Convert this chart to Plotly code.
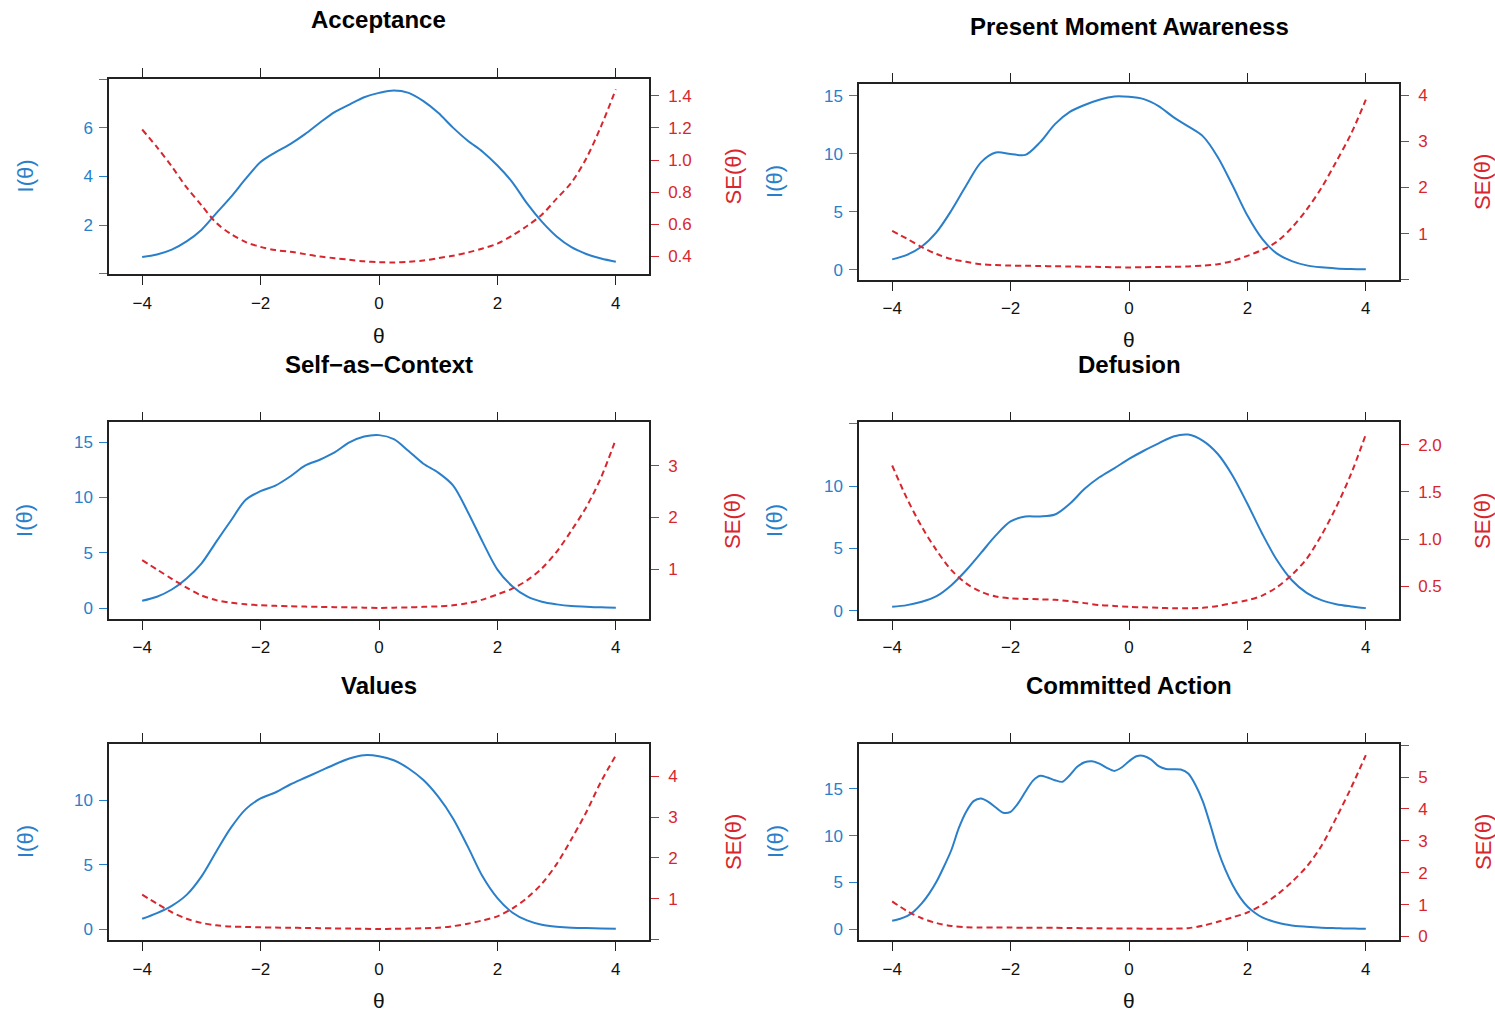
import plotly.graph_objects as go

# ---------------- data ----------------
theta = [-4.0, -3.75, -3.5, -3.25, -3.0, -2.75, -2.5, -2.25, -2.0, -1.75, -1.5, -1.25,
         -1.0, -0.75, -0.5, -0.25, 0.0, 0.25, 0.5, 0.75, 1.0, 1.25, 1.5, 1.75,
         2.0, 2.25, 2.5, 2.75, 3.0, 3.25, 3.5, 3.75, 4.0]

theta_fine = [-4.0, -3.875, -3.75, -3.625, -3.5, -3.375, -3.25, -3.125, -3.0, -2.875, -2.75,
              -2.625, -2.5, -2.375, -2.25, -2.125, -2.0, -1.875, -1.75, -1.625, -1.5, -1.375,
              -1.25, -1.125, -1.0, -0.875, -0.75, -0.625, -0.5, -0.375, -0.25, -0.125, 0.0,
              0.125, 0.25, 0.375, 0.5, 0.625, 0.75, 0.875, 1.0, 1.125, 1.25, 1.375, 1.5,
              1.625, 1.75, 1.875, 2.0, 2.125, 2.25, 2.375, 2.5, 2.625, 2.75, 2.875, 3.0,
              3.125, 3.25, 3.375, 3.5, 3.625, 3.75, 3.875, 4.0]

acceptance_info = [0.69, 0.79, 0.99, 1.33, 1.80, 2.48, 3.16, 3.91, 4.59, 4.99, 5.33, 5.74,
                   6.21, 6.65, 6.96, 7.26, 7.44, 7.54, 7.44, 7.10, 6.62, 6.01, 5.47, 5.02,
                   4.45, 3.77, 2.89, 2.14, 1.53, 1.09, 0.81, 0.62, 0.49]
acceptance_se = [1.19, 1.08, 0.96, 0.83, 0.72, 0.61, 0.54, 0.49, 0.46, 0.44, 0.43, 0.415,
                 0.40, 0.39, 0.38, 0.37, 0.365, 0.363, 0.367, 0.375, 0.39, 0.405, 0.425, 0.45,
                 0.48, 0.53, 0.59, 0.66, 0.76, 0.86, 1.01, 1.21, 1.44]

pma_info = [0.89, 1.28, 2.0, 3.24, 5.1, 7.25, 9.25, 10.1, 9.98, 9.9, 11.0, 12.55,
            13.6, 14.2, 14.65, 14.93, 14.9, 14.7, 14.1, 13.15, 12.35, 11.49, 9.7, 7.25,
            4.67, 2.66, 1.38, 0.74, 0.37, 0.2, 0.11, 0.06, 0.03]
pma_se = [1.06, 0.89, 0.71, 0.56, 0.45, 0.39, 0.34, 0.32, 0.31, 0.305, 0.30, 0.295,
          0.29, 0.285, 0.28, 0.275, 0.27, 0.275, 0.28, 0.285, 0.29, 0.31, 0.34, 0.41,
          0.52, 0.65, 0.83, 1.13, 1.52, 1.99, 2.56, 3.16, 3.9]

sac_info = [0.69, 1.05, 1.7, 2.7, 4.04, 6.0, 7.93, 9.8, 10.57, 11.08, 11.9, 12.87,
            13.41, 14.07, 14.97, 15.5, 15.63, 15.27, 14.19, 13.05, 12.25, 11.1, 8.7, 6.0,
            3.5, 2.0, 1.08, 0.6, 0.36, 0.21, 0.15, 0.09, 0.06]
sac_se = [1.18, 1.0, 0.82, 0.65, 0.50, 0.41, 0.36, 0.33, 0.31, 0.30, 0.29, 0.285,
          0.28, 0.275, 0.27, 0.265, 0.26, 0.265, 0.27, 0.28, 0.29, 0.31, 0.35, 0.42,
          0.52, 0.63, 0.79, 1.02, 1.34, 1.75, 2.2, 2.77, 3.51]

defusion_info = [0.32, 0.45, 0.72, 1.17, 2.05, 3.25, 4.64, 6.05, 7.17, 7.57, 7.57, 7.73,
                 8.59, 9.79, 10.72, 11.44, 12.19, 12.85, 13.44, 14.0, 14.15, 13.65, 12.59, 10.85,
                 8.59, 6.19, 4.05, 2.45, 1.44, 0.85, 0.53, 0.35, 0.21]
defusion_se = [1.78, 1.43, 1.13, 0.88, 0.67, 0.53, 0.44, 0.39, 0.37, 0.365, 0.36, 0.355,
               0.34, 0.32, 0.30, 0.29, 0.28, 0.275, 0.27, 0.265, 0.265, 0.27, 0.29, 0.32,
               0.35, 0.40, 0.49, 0.62, 0.79, 1.04, 1.34, 1.69, 2.11]

values_info = [0.8, 1.24, 1.8, 2.65, 4.07, 6.0, 7.86, 9.3, 10.13, 10.59, 11.21, 11.73,
               12.24, 12.76, 13.22, 13.48, 13.4, 13.09, 12.45, 11.55, 10.26, 8.58, 6.39, 4.07,
               2.4, 1.29, 0.67, 0.34, 0.18, 0.1, 0.08, 0.05, 0.03]
values_se = [1.1, 0.88, 0.67, 0.51, 0.41, 0.35, 0.32, 0.31, 0.30, 0.295, 0.29, 0.285,
             0.28, 0.275, 0.27, 0.265, 0.26, 0.265, 0.27, 0.28, 0.29, 0.33, 0.39, 0.47,
             0.57, 0.76, 1.02, 1.37, 1.85, 2.46, 3.12, 3.87, 4.51]

ca_info = [0.89, 1.08, 1.38, 1.95, 2.75, 3.8, 5.09, 6.7, 8.47, 10.8, 12.56,
           13.7, 13.99, 13.63, 13.02, 12.46, 12.56, 13.45, 14.70, 15.87, 16.41, 16.23,
           15.94, 15.77, 16.48, 17.37, 17.86, 17.97, 17.72, 17.26, 16.94, 17.30, 17.97,
           18.5, 18.54, 18.15, 17.44, 17.15, 17.12, 17.08, 16.65, 15.41, 13.63, 11.14, 8.47,
           6.4, 4.73, 3.4, 2.42, 1.75, 1.25, 0.95, 0.71, 0.52, 0.39, 0.3, 0.25,
           0.19, 0.14, 0.12, 0.1, 0.08, 0.07, 0.05, 0.04]
ca_se = [1.1, 0.80, 0.57, 0.42, 0.33, 0.29, 0.28, 0.28, 0.28, 0.27, 0.27, 0.27,
         0.265, 0.26, 0.255, 0.25, 0.25, 0.245, 0.245, 0.245, 0.26, 0.34, 0.46, 0.6,
         0.75, 0.99, 1.31, 1.71, 2.19, 2.84, 3.72, 4.66, 5.69]

titles = ["Acceptance", "Present Moment Awareness", "Self\u2212as\u2212Context",
          "Defusion", "Values", "Committed Action"]
x_ticks = [-4, -2, 0, 2, 4]

# ---------------- layout constants ----------------
W, H = 1495, 1019
BLUE = "#2a7fca"
RED = "#d8262e"
FONT = "Liberation Sans, Arial, Helvetica, sans-serif"

# frame boxes in pixels: (left, right, top, bottom)
frames = [(109, 649, 79, 276), (859, 1399, 84, 282),
          (109, 649, 425, 623), (859, 1399, 425, 623),
          (109, 649, 748, 946), (859, 1399, 748, 946)]

panels = [
    dict(x=theta, info=acceptance_info, xse=theta, se=acceptance_se,
         yr=[-0.03, 8.03], yt=[0, 2, 4, 6, 8], ytt=["", "2", "4", "6", ""],
         sr=[0.289, 1.507], st=[0.4, 0.6, 0.8, 1.0, 1.2, 1.4],
         stt=["0.4", "0.6", "0.8", "1.0", "1.2", "1.4"],
         title_y=20, xlab_y=337, sm=0.9),
    dict(x=theta, info=pma_info, xse=theta, se=pma_se,
         yr=[-0.92, 16.05], yt=[0, 5, 10, 15], ytt=["0", "5", "10", "15"],
         sr=[-0.01, 4.25], st=[0, 1, 2, 3, 4], stt=["", "1", "2", "3", "4"],
         title_y=27, xlab_y=342, sm=0.9),
    dict(x=theta, info=sac_info, xse=theta, se=sac_se,
         yr=[-0.99, 16.77], yt=[0, 5, 10, 15], ytt=["0", "5", "10", "15"],
         sr=[0.04, 3.83], st=[1, 2, 3], stt=["1", "2", "3"],
         title_y=367, xlab_y=None, sm=0.9),
    dict(x=theta, info=defusion_info, xse=theta, se=defusion_se,
         yr=[-0.69, 15.12], yt=[0, 5, 10, 15], ytt=["0", "5", "10", ""],
         sr=[0.148, 2.236], st=[0.5, 1.0, 1.5, 2.0], stt=["0.5", "1.0", "1.5", "2.0"],
         title_y=367, xlab_y=None, sm=0.9),
    dict(x=theta, info=values_info, xse=theta, se=values_se,
         yr=[-0.88, 14.38], yt=[0, 5, 10], ytt=["0", "5", "10"],
         sr=[-0.02, 4.80], st=[0, 1, 2, 3, 4], stt=["", "1", "2", "3", "4"],
         title_y=690, xlab_y=1006, sm=0.9),
    dict(x=theta_fine, info=ca_info, xse=theta, se=ca_se,
         yr=[-1.21, 19.86], yt=[0, 5, 10, 15], ytt=["0", "5", "10", "15"],
         sr=[-0.125, 6.05], st=[0, 1, 2, 3, 4, 5, 6], stt=["0", "1", "2", "3", "4", "5", ""],
         title_y=690, xlab_y=1006, sm=0.75),
]

fig = go.Figure()
layout = dict(width=W, height=H, margin=dict(l=0, r=0, t=0, b=0),
              paper_bgcolor="white", plot_bgcolor="white", showlegend=False,
              font=dict(family=FONT, size=17, color="black"))
annotations = []

def px_x(p):
    return p / W

def px_y(p):
    return 1 - p / H

for i, (p, fr) in enumerate(zip(panels, frames)):
    k = i + 1
    xs = "" if k == 1 else str(k)
    ys_left = "" if k == 1 else str(k)
    ys_right = str(k + 6)
    l, r, t, b = fr
    xdom = [px_x(l), px_x(r)]
    ydom = [px_y(b), px_y(t)]

    fig.add_trace(go.Scatter(x=p["x"], y=p["info"], mode="lines",
                             line=dict(color=BLUE, width=2, shape="spline", smoothing=p["sm"]),
                             xaxis="x" + xs, yaxis="y" + ys_left, hoverinfo="skip"))
    fig.add_trace(go.Scatter(x=p["xse"], y=p["se"], mode="lines",
                             line=dict(color=RED, width=2, dash="6px,4px", shape="spline",
                                       smoothing=0.9),
                             xaxis="x" + xs, yaxis="y" + ys_right, hoverinfo="skip"))

    layout["xaxis" + xs] = dict(domain=xdom, anchor="y" + ys_left, range=[-4.56, 4.56],
                                tickvals=x_ticks, ticks="outside", ticklen=9, tickwidth=1.3,
                                tickcolor="#222", showline=True, linecolor="#222",
                                linewidth=1.5, mirror="ticks", showgrid=False,
                                zeroline=False, tickfont=dict(size=17, color="#111"),
                                ticklabelstandoff=3, fixedrange=True)
    layout["yaxis" + ys_left] = dict(domain=ydom, anchor="x" + xs, range=p["yr"],
                                     tickvals=p["yt"], ticktext=p["ytt"], ticks="outside",
                                     ticklen=8, tickwidth=1.3, tickcolor=BLUE,
                                     showline=True, linecolor="#222", linewidth=1.5,
                                     showgrid=False, zeroline=False, ticklabelstandoff=3,
                                     tickfont=dict(size=17, color=BLUE), fixedrange=True)
    layout["yaxis" + ys_right] = dict(domain=ydom, anchor="x" + xs, overlaying="y" + ys_left,
                                      side="right", range=p["sr"], tickvals=p["st"],
                                      ticktext=p["stt"], ticks="outside", ticklen=8,
                                      tickwidth=1.3, tickcolor=RED, showline=True,
                                      linecolor="#222", linewidth=1.5, showgrid=False,
                                      zeroline=False, ticklabelstandoff=6,
                                      tickfont=dict(size=17, color=RED), fixedrange=True)

    cx = (l + r) / 2
    cy = (t + b) / 2
    annotations.append(dict(text="<b>" + titles[i] + "</b>", x=px_x(cx), y=px_y(p["title_y"]),
                            xref="paper", yref="paper", showarrow=False, xanchor="center",
                            yanchor="middle", font=dict(size=24, color="black", family=FONT)))
    annotations.append(dict(text="I(\u03b8)", x=px_x(l - 84), y=px_y(cy), xref="paper",
                            yref="paper", showarrow=False, textangle=-90, xanchor="center",
                            yanchor="middle", font=dict(size=22, color=BLUE, family=FONT)))
    annotations.append(dict(text="SE(\u03b8)", x=px_x(r + 84), y=px_y(cy), xref="paper",
                            yref="paper", showarrow=False, textangle=-90, xanchor="center",
                            yanchor="middle", font=dict(size=22, color=RED, family=FONT)))
    if p["xlab_y"] is not None:
        annotations.append(dict(text="\u03b8", x=px_x(cx), y=px_y(p["xlab_y"]), xref="paper",
                                yref="paper", showarrow=False, xanchor="center",
                                yanchor="middle", font=dict(size=21, color="#111", family=FONT)))

layout["annotations"] = annotations
fig.update_layout(**layout)
fig.write_html("out.html", config={"displayModeBar": False},
               post_script="document.body.style.margin='0px';document.body.style.padding='0px';")
